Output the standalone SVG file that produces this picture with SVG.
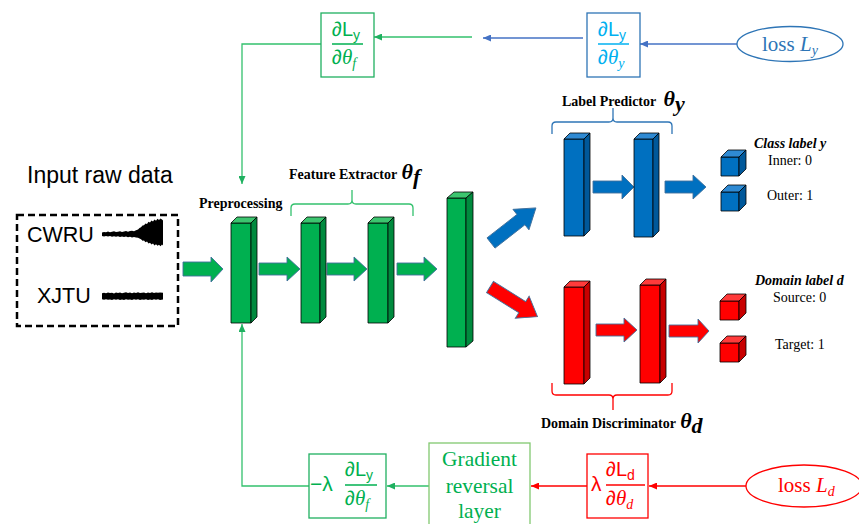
<svg xmlns="http://www.w3.org/2000/svg" width="859" height="524" viewBox="0 0 859 524">
<defs>
<style>
.lbl{font-family:"Liberation Serif",serif;font-size:14px;font-weight:bold;fill:#000}
.lbli{font-family:"Liberation Serif",serif;font-size:14px;font-weight:bold;font-style:italic;fill:#000}
.reg{font-family:"Liberation Serif",serif;font-size:14px;fill:#000}
.th{font-family:"Liberation Serif",serif;font-style:italic;font-weight:bold;font-size:22px;fill:#000}
.sans{font-family:"Liberation Sans",Arial,sans-serif}
.ser{font-family:"Liberation Serif",serif}
.bar{stroke:#000;stroke-width:0.8;stroke-linejoin:round}
.barr{stroke:#41719c;stroke-width:0.9;stroke-linejoin:miter}
.g1{fill:#00b050}.g2{fill:#3cc56f}.g3{fill:#008a3e}
.b1{fill:#0070c0}.b2{fill:#2f8ad3}.b3{fill:#00589a}
.r1{fill:#ff0000}.r2{fill:#ff3b3b}.r3{fill:#c80000}
.gl{stroke:#33c16d;stroke-width:1.3;fill:none}
.bl{stroke:#4472c4;stroke-width:1.3;fill:none}
.rl{stroke:#ff0000;stroke-width:1.3;fill:none}
</style>
<marker id="mg" markerWidth="8" markerHeight="7" refX="8" refY="3.5" orient="auto" markerUnits="userSpaceOnUse"><path d="M0,0 L8,3.5 L0,7 z" fill="#1fb060"/></marker>
<marker id="mb" markerWidth="8" markerHeight="7" refX="8" refY="3.5" orient="auto" markerUnits="userSpaceOnUse"><path d="M0,0 L8,3.5 L0,7 z" fill="#4472c4"/></marker>
<marker id="mr" markerWidth="8" markerHeight="7" refX="8" refY="3.5" orient="auto" markerUnits="userSpaceOnUse"><path d="M0,0 L8,3.5 L0,7 z" fill="#ff0000"/></marker>
</defs>
<rect width="859" height="524" fill="#fff"/>

<!-- connectors -->
<g id="connectors">
<polyline class="bl" points="583,38 483,38" marker-end="url(#mb)"/>
<polyline class="gl" points="472,37 374,37" marker-end="url(#mg)"/>
<polyline class="bl" points="737,44 640,44" marker-end="url(#mb)"/>
<polyline class="gl" points="321,44 242,44 242,184" marker-end="url(#mg)"/>
<polyline class="gl" points="309,486 242,486 242,324" marker-end="url(#mg)"/>
<polyline class="gl" points="429,486 387,486" marker-end="url(#mg)"/>
<polyline class="rl" points="587,486 531,486" marker-end="url(#mr)"/>
<polyline class="rl" points="746,486 649,486" marker-end="url(#mr)"/>
<!-- block arrows -->
<polygon class="barr g1" points="183,262 211,262 211,257 223,269 211,282 211,276 183,276"/>
<polygon class="barr g1" points="259,263 287,263 287,257 300,269 287,281 287,275 259,275"/>
<polygon class="barr g1" points="327,263 354,263 354,257 367,269 354,281 354,275 327,275"/>
<polygon class="barr g1" points="397,263 424,263 424,257 437,269 424,281 424,275 397,275"/>
<polygon class="barr b1" points="593,181 622,181 622,175 634,187 622,199 622,193 593,193"/>
<polygon class="barr b1" points="665,181 693,181 693,175 706,187 693,199 693,193 665,193"/>
<polygon class="barr r1" points="596,324 624,324 624,318 637,330 624,342 624,336 596,336"/>
<polygon class="barr r1" points="669,325 698,325 698,319 709,331 698,343 698,337 669,337"/>
<polygon class="barr b1" transform="translate(491,243) rotate(-38)" points="0,-6.5 38,-6.5 38,-13 57,0 38,13 38,6.5 0,6.5"/>
<polygon class="barr r1" transform="translate(490,287) rotate(32)" points="0,-6.5 38,-6.5 38,-13 56,0 38,13 38,6.5 0,6.5"/>
</g>

<!-- input -->
<g id="input">
<text x="27" y="183" class="sans" font-size="23" fill="#000">Input raw data</text>
<rect x="17" y="215" width="161" height="111" fill="none" stroke="#000" stroke-width="2.5" stroke-dasharray="7,4"/>
<text x="27" y="242" class="sans" font-size="21.5" fill="#000">CWRU</text>
<text x="37" y="303" class="sans" font-size="21.5" fill="#000">XJTU</text>
<path fill="#000" d="M102,232.4 L104,231.9 L106,232.3 L108,231.6 L110,232.2 L112,231.8 L114,231.3 L116,232.1 L118,231.7 L120,231.2 L122,231.9 L124,231.5 L126,231.1 L128,231.7 L130,231 L132,230.8 L134,231.2 L136,230.2 L138,229.6 L139.5,228 L141,227.2 L142.5,225.5 L144,225.2 L145.5,223.4 L147,224 L148.5,221.8 L150,222.6 L151.5,220.6 L153,221.4 L154.5,219.5 L156,220.8 L157.5,218.8 L159,220 L160.5,218.5 L162,219.6 L163,220.4 L163,245.5 L162,244.6 L160.5,246.2 L159,244.8 L157.5,245.8 L156,244.2 L154.5,245.4 L153,243.6 L151.5,244.6 L150,242.8 L148.5,243.6 L147,241.6 L145.5,242.2 L144,240.4 L142.5,240.8 L141,239.2 L139.5,238.6 L138,237.8 L136,237.6 L134,237 L132,237.4 L130,236.8 L128,237.3 L126,236.6 L124,237.1 L122,236.5 L120,236.9 L118,236.3 L116,236.8 L114,236.2 L112,236.7 L110,236.1 L108,236.6 L106,236 L104,236.4 L102,235.9 Z"/>
<path fill="#000" d="M102,293.2 L104,292.8 L106,293.3 L108,292.5 L110,293 L112,292.7 L114,293.4 L116,292.6 L118,292.9 L120,292.4 L122,293.2 L124,292.8 L126,292.3 L128,293.1 L130,292.6 L132,293.3 L134,292.5 L136,292.9 L138,292.2 L140,293 L142,292.7 L144,292.4 L146,293.2 L148,292.6 L150,292.9 L152,292.3 L154,293.1 L156,292.5 L158,292.8 L160,292.4 L163,292.7 L163,299.4 L160,299.9 L158,299.3 L156,299.8 L154,299.2 L152,299.9 L150,299.5 L148,300.1 L146,299.3 L144,299.8 L142,299.4 L140,300 L138,299.3 L136,299.7 L134,299.2 L132,299.9 L130,299.4 L128,299.8 L126,299.3 L124,300 L122,299.5 L120,299.9 L118,299.3 L116,299.7 L114,299.2 L112,299.9 L110,299.4 L108,299.8 L106,299.2 L104,299.7 L102,299.3 Z"/>
</g>

<!-- feature extractor -->
<g id="preprocessing">
<text x="199" y="208" class="lbl">Preprocessing</text>
<rect class="bar g1" x="231" y="223" width="20" height="100"/>
<polygon class="bar g2" points="231,223 237,217 257,217 251,223"/>
<polygon class="bar g3" points="251,223 257,217 257,317 251,323"/>
</g>
<g id="feature-extractor">
<text x="289" y="179" class="lbl">Feature Extractor <tspan class="th" dx="1">θ</tspan><tspan class="th" font-size="14" dy="5">f</tspan></text>
<path class="gl" d="M291,216 L291,208 Q291,204 295,204 L348,204 Q352,204 352,200 L352,190 M352,200 Q352,204 356,204 L409,204 Q413,204 413,208 L413,216"/>
<rect class="bar g1" x="301" y="223" width="19" height="100"/>
<polygon class="bar g2" points="301,223 307,217 326,217 320,223"/>
<polygon class="bar g3" points="320,223 326,217 326,317 320,323"/>
<rect class="bar g1" x="368" y="223" width="20" height="100"/>
<polygon class="bar g2" points="368,223 374,217 394,217 388,223"/>
<polygon class="bar g3" points="388,223 394,217 394,317 388,323"/>
</g>
<g id="feature-output">
<rect class="bar g1" x="447" y="198" width="19" height="149"/>
<polygon class="bar g2" points="447,198 454,192 473,192 466,198"/>
<polygon class="bar g3" points="466,198 473,192 473,341 466,347"/>
</g>

<!-- label predictor -->
<g id="label-predictor">
<text x="562" y="106" class="lbl">Label Predictor <tspan class="th" dx="4">θ</tspan><tspan class="th" font-size="14" dy="5">y</tspan></text>
<path d="M552,134 L552,126 Q552,122 556,122 L609,122 Q613,122 613,118 L613,108 M613,118 Q613,122 617,122 L668,122 Q672,122 672,126 L672,134" fill="none" stroke="#2e75b6" stroke-width="1.3"/>
<rect class="bar b1" x="564" y="139" width="20" height="97"/>
<polygon class="bar b2" points="564,139 570,133 590,133 584,139"/>
<polygon class="bar b3" points="584,139 590,133 590,230 584,236"/>
<rect class="bar b1" x="634" y="139" width="19" height="98"/>
<polygon class="bar b2" points="634,139 640,133 659,133 653,139"/>
<polygon class="bar b3" points="653,139 659,133 659,231 653,237"/>
</g>
<g id="class-label">
<text x="754" y="148" class="lbli">Class label y</text>
<text x="768" y="165" class="reg">Inner: 0</text>
<text x="767" y="200" class="reg">Outer: 1</text>
<rect class="bar b1" x="721" y="157" width="18" height="19"/>
<polygon class="bar b2" points="721,157 728,150 746,150 739,157"/>
<polygon class="bar b3" points="739,157 746,150 746,169 739,176"/>
<rect class="bar b1" x="721" y="192" width="18" height="19"/>
<polygon class="bar b2" points="721,192 728,185 746,185 739,192"/>
<polygon class="bar b3" points="739,192 746,185 746,204 739,211"/>
</g>

<!-- domain discriminator -->
<g id="domain-discriminator">
<rect class="bar r1" x="564" y="287" width="20" height="97"/>
<polygon class="bar r2" points="564,287 570,281 590,281 584,287"/>
<polygon class="bar r3" points="584,287 590,281 590,378 584,384"/>
<rect class="bar r1" x="640" y="285" width="20" height="98"/>
<polygon class="bar r2" points="640,285 646,279 666,279 660,285"/>
<polygon class="bar r3" points="660,285 666,279 666,377 660,383"/>
<path d="M552,383 L552,391 Q552,395 556,395 L609,395 Q613,395 613,399 L613,410 M613,399 Q613,395 617,395 L668,395 Q672,395 672,391 L672,383" fill="none" stroke="#ff0000" stroke-width="1.3"/>
<text x="541" y="428" class="lbl">Domain Discriminator <tspan class="th" dx="1">θ</tspan><tspan class="th" font-size="14" dy="5">d</tspan></text>
</g>
<g id="domain-label">
<text x="755" y="285" class="lbli">Domain label d</text>
<text x="773" y="302" class="reg">Source: 0</text>
<text x="775" y="349" class="reg">Target: 1</text>
<rect class="bar r1" x="720" y="301" width="19" height="19"/>
<polygon class="bar r2" points="720,301 727,294 746,294 739,301"/>
<polygon class="bar r3" points="739,301 746,294 746,313 739,320"/>
<rect class="bar r1" x="720" y="343" width="19" height="19"/>
<polygon class="bar r2" points="720,343 727,336 746,336 739,343"/>
<polygon class="bar r3" points="739,343 746,336 746,355 739,362"/>
</g>

<!-- gradient boxes -->
<g id="grad-f-top">
<rect x="321" y="13" width="53" height="64" fill="#fff" stroke="#1fb060" stroke-width="1.3"/>
<text x="332" y="36" class="sans" font-size="20" fill="#00b050">∂L<tspan font-size="14" dy="4">y</tspan></text>
<line x1="332" y1="44" x2="363" y2="44" stroke="#00b050" stroke-width="1.5"/>
<text x="332" y="64" fill="#00b050"><tspan class="sans" font-size="20">∂</tspan><tspan class="ser" font-style="italic" font-size="21">θ</tspan><tspan class="ser" font-style="italic" font-size="14" dy="4">f</tspan></text>
</g>
<g id="grad-y">
<rect x="587" y="13" width="53" height="64" fill="#fff" stroke="#2e75b6" stroke-width="1.3"/>
<text x="598" y="36" class="sans" font-size="20" fill="#00b0f0">∂L<tspan font-size="14" dy="4">y</tspan></text>
<line x1="598" y1="44" x2="629" y2="44" stroke="#00b0f0" stroke-width="1.5"/>
<text x="598" y="64" fill="#00b0f0"><tspan class="sans" font-size="20">∂</tspan><tspan class="ser" font-style="italic" font-size="21">θ</tspan><tspan class="ser" font-style="italic" font-size="14" dy="4">y</tspan></text>
</g>
<g id="loss-y">
<ellipse cx="790" cy="44" rx="53" ry="17.5" fill="#fff" stroke="#2e75b6" stroke-width="1.3"/>
<text x="762" y="51" class="ser" font-size="21" fill="#2e75b6">loss <tspan font-style="italic">L</tspan><tspan font-style="italic" font-size="14" dy="4">y</tspan></text>
</g>
<g id="grad-f-bottom">
<rect x="309" y="454" width="77" height="64" fill="#fff" stroke="#1fb060" stroke-width="1.3"/>
<text x="310" y="491" class="sans" font-size="21" fill="#00b050">−λ</text>
<text x="345" y="476" class="sans" font-size="20" fill="#00b050">∂L<tspan font-size="14" dy="4">y</tspan></text>
<line x1="345" y1="485" x2="377" y2="485" stroke="#00b050" stroke-width="1.5"/>
<text x="345" y="505" fill="#00b050"><tspan class="sans" font-size="20">∂</tspan><tspan class="ser" font-style="italic" font-size="21">θ</tspan><tspan class="ser" font-style="italic" font-size="14" dy="4">f</tspan></text>
</g>
<g id="gradient-reversal">
<rect x="429" y="443" width="101" height="90" fill="#fff" stroke="#82c870" stroke-width="1.3"/>
<text class="ser" font-size="21.4" fill="#00b050" text-anchor="middle"><tspan x="479.5" y="466">Gradient</tspan><tspan x="479.5" y="493">reversal</tspan><tspan x="479.5" y="518">layer</tspan></text>
</g>
<g id="grad-d">
<rect x="587" y="454" width="61" height="64" fill="#fff" stroke="#ff0000" stroke-width="1.3"/>
<text x="591" y="491" class="sans" font-size="21" fill="#ff0000">λ</text>
<text x="606" y="476" class="sans" font-size="20" fill="#ff0000">∂L<tspan font-size="14" dy="4">d</tspan></text>
<line x1="606" y1="485" x2="645" y2="485" stroke="#ff0000" stroke-width="1.5"/>
<text x="606" y="505" fill="#ff0000"><tspan class="sans" font-size="20">∂</tspan><tspan class="ser" font-style="italic" font-size="21">θ</tspan><tspan class="ser" font-style="italic" font-size="14" dy="4">d</tspan></text>
</g>
<g id="loss-d">
<ellipse cx="804" cy="486" rx="58" ry="21" fill="#fff" stroke="#ff0000" stroke-width="1.3"/>
<text x="778" y="492" class="ser" font-size="21" fill="#ff0000">loss <tspan font-style="italic">L</tspan><tspan font-style="italic" font-size="14" dy="4">d</tspan></text>
</g>
</svg>
